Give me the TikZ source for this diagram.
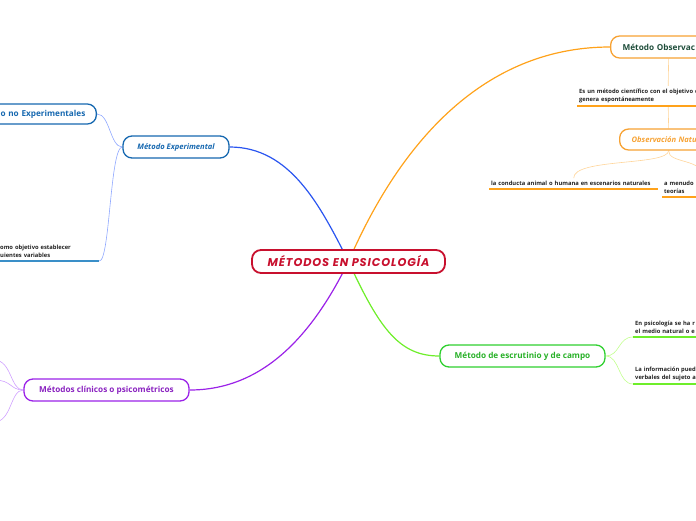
\documentclass[tikz,border=0pt]{standalone}
\usepackage{fontspec}
\setmainfont{Open Sans}
\newfontfamily\titlefont[LetterSpace=8]{Poppins}
\usetikzlibrary{positioning,backgrounds}
\definecolor{MapRed}{HTML}{C8102E}
\definecolor{MapBlue}{HTML}{1668B0}
\definecolor{LineBlue}{HTML}{2A55F0}
\definecolor{TwigBlue}{HTML}{8FA8FF}
\definecolor{NoteBlue}{HTML}{3A8FC8}
\definecolor{MapOrange}{HTML}{F7A233}
\definecolor{LineOrange}{HTML}{FFA21A}
\definecolor{TwigOrange}{HTML}{FFD59A}
\definecolor{ObsGreen}{HTML}{1E4D3A}
\definecolor{MapGreen}{HTML}{2FD02F}
\definecolor{LineGreen}{HTML}{6EEE2A}
\definecolor{TwigGreen}{HTML}{C2FF8E}
\definecolor{MapPurple}{HTML}{9B22E8}
\definecolor{TextPurple}{HTML}{8A22C0}
\definecolor{TwigPurple}{HTML}{CFA0FF}
\definecolor{NoteGray}{HTML}{222222}

\begin{document}
\begin{tikzpicture}[x=1pt,y=-1pt,
    topic/.style={draw, line width=1.3pt, rounded corners=9pt, fill=white,
      minimum height=22pt, inner xsep=12pt, inner ysep=0pt,
      font=\fontsize{8.2}{10}\selectfont\bfseries},
    note/.style={font=\fontsize{5.8}{8}\selectfont\bfseries, text=NoteGray,
      align=left, inner xsep=2pt, inner ysep=3pt, anchor=south west},
    branch/.style={line width=1.2pt},
    twig/.style={line width=0.6pt},
    under/.style={line width=1.6pt},
  ]
  \useasboundingbox (0,0) rectangle (696,520);
  \clip (0,0) rectangle (696,520);

  % central topic
  \node[topic, draw=MapRed, line width=1.8pt, minimum width=193pt, minimum height=23pt,
    text=MapRed, font=\titlefont\fontsize{11.3}{12}\selectfont\bfseries\itshape]
    (root) at (348.5,261.5) {MÉTODOS EN PSICOLOGÍA};

  % blue branch
  \node[topic, draw=MapBlue, text=MapBlue, minimum width=106pt,
    font=\fontsize{7.6}{10}\selectfont\bfseries\itshape]
    (exp) at (176,147) {Método Experimental};
  \node[topic, draw=MapBlue, text=MapBlue, anchor=east, text width=110pt, align=right,
    minimum height=20pt, inner xsep=11pt] (noexp) at (97,114) {o no Experimentales};
  \node[note, text width=97pt] (expnote) at (-2,261)
    {omo objetivo establecer\\uientes variables};

  % orange branch
  \node[topic, draw=MapOrange, text=ObsGreen, anchor=west, minimum width=116pt,
    text width=92pt, align=left] (obs) at (610,47) {Método Observac};
  \node[note, text width=178pt] (obsdef) at (577,106)
    {Es un método científico con el objetivo d\\genera espontáneamente};
  \node[topic, draw=MapOrange, text=MapOrange, anchor=west, minimum width=98pt,
    text width=74pt, align=left, minimum height=21pt,
    font=\fontsize{7.6}{10}\selectfont\bfseries\itshape]
    (obsnat) at (619,139.5) {Observación Natu};
  \node[note, text width=165pt] (conducta) at (489,189)
    {la conducta animal o humana en escenarios naturales};
  \node[note, text width=80pt] (menudo) at (662,197) {a menudo\\teorías};

  % green branch
  \node[topic, draw=MapGreen, text=MapGreen!85!black, minimum width=165pt]
    (campo) at (522.5,356) {Método de escrutinio y de campo};
  \node[note, text width=100pt] (psico) at (633,337)
    {En psicología se ha r\\el medio natural o e};
  \node[note, text width=100pt] (info) at (633,384)
    {La información pued\\verbales del sujeto a};

  % purple branch
  \node[topic, draw=MapPurple, text=TextPurple, minimum width=165pt]
    (clin) at (106.5,390) {Métodos clínicos o psicométricos};
  \coordinate (clinA) at (-6,360);
  \coordinate (clinB) at (-6,380);
  \coordinate (clinC) at (-6,422);

  % underlines
  \draw[under, NoteBlue] (expnote.south west) -- (expnote.south east);
  \draw[under, LineOrange] (obsdef.south west) -- (obsdef.south east);
  \draw[under, LineOrange] (conducta.south west) -- (conducta.south east);
  \draw[under, LineOrange] (menudo.south west) -- (menudo.south east);
  \draw[under, LineGreen] (psico.south west) -- (psico.south east);
  \draw[under, LineGreen] (info.south west) -- (info.south east);

  \begin{pgfonlayer}{background}
    \draw[branch, LineBlue] (root.center) .. controls (320,205) and (290,147) .. (exp.east);
    \draw[branch, LineOrange] (root.center) .. controls (410,120) and (500,47) .. (obs.west);
    \draw[branch, LineGreen] (root.center) .. controls (380,330) and (400,356) .. (campo.west);
    \draw[branch, MapPurple] (root.center) .. controls (310,340) and (260,390) .. (clin.east);

    \draw[twig, TwigBlue] (exp.west) .. controls (110,147) and (110,114) .. (noexp.east);
    \draw[twig, TwigBlue] (exp.west) .. controls (110,147) and (110,261) .. (expnote.south east);

    \draw[twig, TwigOrange] (obs.south) -- (obsdef.north);
    \draw[twig, TwigOrange] (obsdef.south) -- (obsnat.north);
    \draw[twig, TwigOrange] (obsnat.south) .. controls (668,166) and (573,158) .. (conducta.north);
    \draw[twig, TwigOrange] (obsnat.south) .. controls (668,164) and (704,158) .. (menudo.north);

    \draw[twig, TwigGreen] (campo.east) .. controls (620,356) and (618,337) .. (psico.south west);
    \draw[twig, TwigGreen] (campo.east) .. controls (620,356) and (618,384) .. (info.south west);

    \draw[twig, TwigPurple] (clin.west) .. controls (10,390) and (12,360) .. (clinA);
    \draw[twig, TwigPurple] (clin.west) .. controls (10,390) and (12,380) .. (clinB);
    \draw[twig, TwigPurple] (clin.west) .. controls (10,390) and (12,422) .. (clinC);
  \end{pgfonlayer}
\end{tikzpicture}
\end{document}
